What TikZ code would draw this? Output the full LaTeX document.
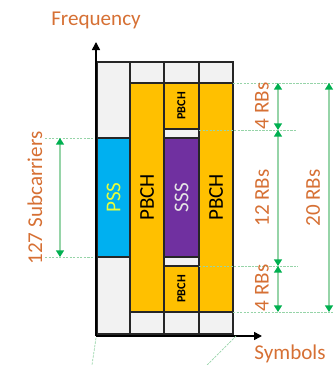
\documentclass[tikz,border=0pt]{standalone}
\usepackage{fontspec}
\setmainfont{Carlito}
\usetikzlibrary{arrows.meta}
\definecolor{labelorange}{RGB}{214,112,52}
\definecolor{pssblue}{RGB}{0,176,240}
\definecolor{pbchyellow}{RGB}{255,192,0}
\definecolor{ssspurple}{RGB}{112,48,160}
\definecolor{cellgray}{RGB}{242,242,242}
\definecolor{dimgreen}{RGB}{150,212,168}
\definecolor{tipgreen}{RGB}{0,176,80}

\begin{document}
\begin{tikzpicture}[
    x=0.03cm, y=-0.03cm,
    every node/.style={font=\fontsize{18}{20}\selectfont},
    cell/.style={draw=black!85, line width=0.9pt},
    blank/.style={cell, fill=cellgray},
    pbch/.style={cell, fill=pbchyellow},
    celltext/.style={rotate=90},
    guide/.style={draw=dimgreen, dashed, dash pattern=on 2pt off 1pt, line width=0.8pt},
    dim/.style={draw=dimgreen, line width=1.2pt, {Triangle[length=2mm, width=2.4mm, color=tipgreen]}-{Triangle[length=2mm, width=2.4mm, color=tipgreen]}},
    axis/.style={draw=black, line width=1.3pt, -{Triangle[length=2.4mm, width=2.4mm]}},
    label/.style={text=labelorange},
]
\useasboundingbox (0,0) rectangle (333,365);

% Column 1: PSS
\draw[blank] (97,62) rectangle (130,138);
\draw[cell, fill=pssblue] (97,138) rectangle (130,257) node[midway, celltext, text={rgb,255:red,230;green,255;blue,60}] (pss) {PSS};
\draw[blank] (97,257) rectangle (130,334);

% Column 2: PBCH
\draw[blank] (130,62) rectangle (164,83);
\draw[pbch] (130,83) rectangle (164,312) node[midway, celltext] (pbch1) {PBCH};
\draw[blank] (130,312) rectangle (164,334);

% Column 3: PBCH / SSS / PBCH
\draw[blank] (164,62) rectangle (199,83);
\draw[pbch] (164,83) rectangle (199,129) node[midway, celltext, font=\fontsize{10.5}{12}\selectfont\bfseries] (pbchtop) {PBCH};
\draw[blank] (164,129) rectangle (199,138);
\draw[cell, fill=ssspurple] (164,138) rectangle (199,257) node[midway, celltext, text=white!90!black] (sss) {SSS};
\draw[blank] (164,257) rectangle (199,266);
\draw[pbch] (164,266) rectangle (199,312) node[midway, celltext, font=\fontsize{10.5}{12}\selectfont\bfseries] (pbchbot) {PBCH};
\draw[blank] (164,312) rectangle (199,334);

% Column 4: PBCH
\draw[blank] (199,62) rectangle (233,83);
\draw[pbch] (199,83) rectangle (233,312) node[midway, celltext] (pbch2) {PBCH};
\draw[blank] (199,312) rectangle (233,334);

% Axes
\coordinate (origin) at (96,336);
\coordinate (ftip) at (96,42);
\coordinate (stip) at (262,336);
\draw[axis] (origin) -- (ftip);
\draw[axis] (origin) -- (stip);
\node[label] (freq) at (96,20) {Frequency};
\node[label] (sym) at (290,354) {Symbols};

% Guide lines
\coordinate (g83a) at (233,83);   \coordinate (g83b) at (333,83);
\coordinate (g129a) at (199,130); \coordinate (g129b) at (296,130);
\coordinate (g266a) at (199,266); \coordinate (g266b) at (298,266);
\coordinate (g312a) at (233,312); \coordinate (g312b) at (333,312);
\coordinate (g138a) at (45,138);  \coordinate (g138b) at (94,138);
\coordinate (g257a) at (45,257);  \coordinate (g257b) at (94,257);
\draw[guide] (g83a) -- (g83b);
\draw[guide] (g129a) -- (g129b);
\draw[guide] (g266a) -- (g266b);
\draw[guide] (g312a) -- (g312b);
\draw[guide] (g138a) -- (g138b);
\draw[guide] (g257a) -- (g257b);
\coordinate (s1a) at (96,338);  \coordinate (s1b) at (92,365);
\coordinate (s2a) at (236,336); \coordinate (s2b) at (207,365);
\draw[guide, line width=0.6pt] (s1a) -- (s1b);
\draw[guide, line width=0.6pt] (s2a) -- (s2b);

% Dimension arrows
\coordinate (d4t) at (278,83);  \coordinate (d4m) at (278,130);
\coordinate (d12m) at (278,266); \coordinate (d4b) at (278,312);
\coordinate (d20t) at (329,83); \coordinate (d20b) at (329,312);
\coordinate (d127t) at (60,138); \coordinate (d127b) at (60,257);
\draw[dim] (d4t) -- (d4m);
\draw[dim] (d4m) -- (d12m);
\draw[dim] (d12m) -- (d4b);
\draw[dim] (d20t) -- (d20b);
\draw[dim] (d127t) -- (d127b);

% Dimension labels
\node[label, rotate=90] (rb4top) at (262,106) {4 RBs};
\node[label, rotate=90] (rb12) at (262,198) {12 RBs};
\node[label, rotate=90] (rb4bot) at (262,288) {4 RBs};
\node[label, rotate=90] (rb20) at (313,198) {20 RBs};
\node[label, rotate=90] (sub) at (35,198) {127 Subcarriers};

\end{tikzpicture}
\end{document}
